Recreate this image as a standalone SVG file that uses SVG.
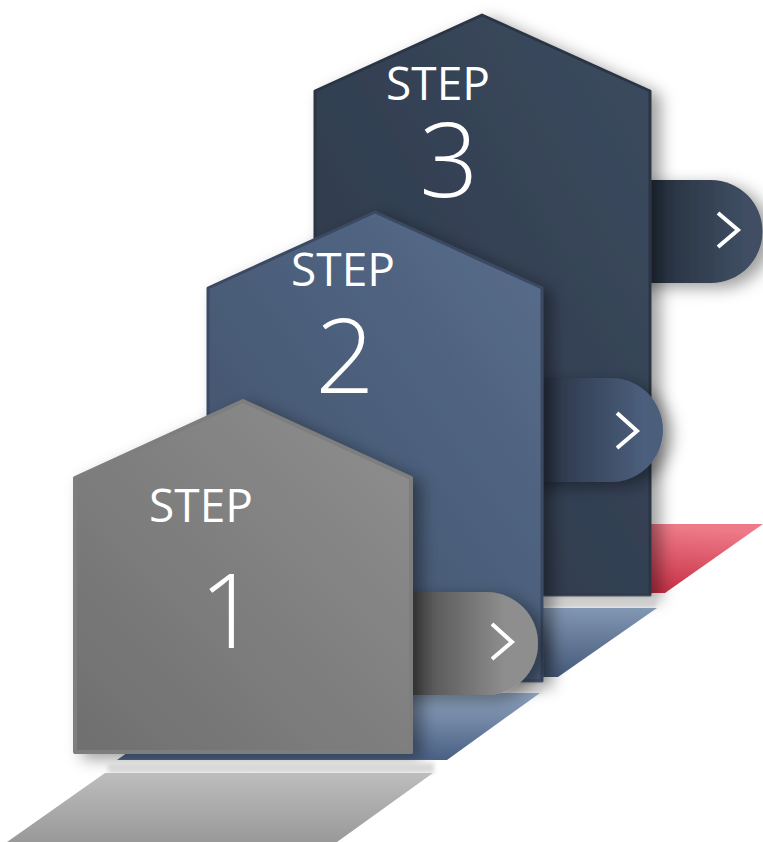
<svg xmlns="http://www.w3.org/2000/svg" width="763" height="842" viewBox="0 0 763 842">
<style>
.lbl{fill:#fff;font-family:"Open Sans","Liberation Sans",sans-serif;text-anchor:middle}
.step{font-size:46px;font-weight:400}
.num{font-size:104px;font-weight:300}
.chev{fill:none;stroke:#fff;stroke-width:4;stroke-linecap:butt;stroke-linejoin:miter}
.sh{filter:url(#shadow)}
</style>
<defs>
<filter id="shadow" x="-20%" y="-20%" width="150%" height="150%">
<feGaussianBlur in="SourceAlpha" stdDeviation="8"/>
<feOffset dx="9" dy="5" result="b"/>
<feFlood flood-color="#000" flood-opacity="0.38"/>
<feComposite in2="b" operator="in"/>
<feMerge><feMergeNode/><feMergeNode in="SourceGraphic"/></feMerge>
</filter>
<filter id="soft" x="-10%" y="-50%" width="120%" height="200%"><feGaussianBlur stdDeviation="2"/></filter>
<linearGradient id="b3" x1="0" y1="1" x2="1" y2="0"><stop offset="0" stop-color="#2b3646"/><stop offset="1" stop-color="#3c4b60"/></linearGradient>
<linearGradient id="b2" x1="0" y1="1" x2="1" y2="0"><stop offset="0" stop-color="#3e4f68"/><stop offset="1" stop-color="#586d8c"/></linearGradient>
<linearGradient id="b1" x1="0" y1="1" x2="1" y2="0"><stop offset="0" stop-color="#6f6f6f"/><stop offset="1" stop-color="#8f8f8f"/></linearGradient>
<linearGradient id="t3" gradientUnits="userSpaceOnUse" x1="652" y1="0" x2="745" y2="0"><stop offset="0" stop-color="#252f3d"/><stop offset="1" stop-color="#3f4e63"/></linearGradient>
<linearGradient id="t2" gradientUnits="userSpaceOnUse" x1="546" y1="0" x2="645" y2="0"><stop offset="0" stop-color="#2b3547"/><stop offset="1" stop-color="#4c5f7d"/></linearGradient>
<linearGradient id="t1" gradientUnits="userSpaceOnUse" x1="414" y1="0" x2="505" y2="0"><stop offset="0" stop-color="#4d4d4d"/><stop offset="1" stop-color="#8e8e8e"/></linearGradient>
<linearGradient id="fr" x1="0.3" y1="1" x2="0.7" y2="0"><stop offset="0" stop-color="#bf2238"/><stop offset="1" stop-color="#ee7a88"/></linearGradient>
<linearGradient id="fb3" x1="0" y1="1" x2="0" y2="0"><stop offset="0" stop-color="#45597a"/><stop offset="1" stop-color="#8297b2"/></linearGradient>
<linearGradient id="fb2" x1="0" y1="1" x2="0" y2="0"><stop offset="0" stop-color="#4a6084"/><stop offset="1" stop-color="#8ea3be"/></linearGradient>
<linearGradient id="fg" x1="0" y1="1" x2="0" y2="0"><stop offset="0" stop-color="#999"/><stop offset="1" stop-color="#bdbdbd"/></linearGradient>
</defs>

<g id="step3">
<path d="M420,524 L763,524 L665,593 L322,593 Z" fill="url(#fr)"/>
<path class="sh" d="M600,180 H711 A51.5,51.5 0 0 1 711,283 H600 Z" fill="url(#t3)"/>
<path class="sh" d="M482,15 L650,91 L650,595 L315,595 L315,91 Z" fill="url(#b3)" stroke="#2a3444" stroke-width="3" stroke-linejoin="round"/>
<rect x="540" y="598" width="116" height="9" fill="#cfcfcf" filter="url(#soft)"/>
<polyline class="chev" points="718,213 738,230 718,247"/>
<text class="lbl step" x="438" y="100">STEP</text>
<text class="lbl num" x="449" y="197">3</text>
</g>

<g id="step2">
<path d="M310,608 L657,608 L558,677 L211,677 Z" fill="url(#fb3)"/>
<path class="sh" d="M500,378 H611 A52,52 0 0 1 611,482 H500 Z" fill="url(#t2)"/>
<path class="sh" d="M375,212 L542,288 L542,681 L208,681 L208,288 Z" fill="url(#b2)" stroke="#3a4962" stroke-width="3" stroke-linejoin="round"/>
<rect x="430" y="684" width="112" height="8" fill="#d3d3d3" filter="url(#soft)"/>
<polyline class="chev" points="617,413 637,431 617,448"/>
<text class="lbl step" x="343" y="286">STEP</text>
<text class="lbl num" x="345" y="393">2</text>
</g>

<g id="step1">
<path d="M210,693 L540,693 L447,760 L117,760 Z" fill="url(#fb2)"/>
<path class="sh" d="M380,592 H486.5 A51.5,51.5 0 0 1 486.5,695 H380 Z" fill="url(#t1)"/>
<path class="sh" d="M243,401 L411,478 L411,752 L75,752 L75,478 Z" fill="url(#b1)" stroke="#7e7e7e" stroke-width="4" stroke-linejoin="round"/>
<rect x="108" y="763" width="326" height="10" fill="#d8d8d8" filter="url(#soft)"/>
<path d="M105,773 L433,773 L337,842 L7,842 Z" fill="url(#fg)"/>
<polyline class="chev" points="492,624 512,642 492,659"/>
<text class="lbl step" x="201" y="522">STEP</text>
<text class="lbl num" x="229" y="648">1</text>
</g>

<g id="connectors"/>
</svg>
